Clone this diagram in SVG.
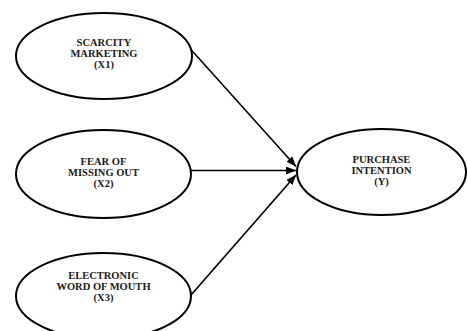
<svg xmlns="http://www.w3.org/2000/svg" width="467" height="331" viewBox="0 0 467 331">
  <style>
    .node ellipse { fill: #ffffff; stroke: #000000; stroke-width: 2; }
    .node text { font-family: "Liberation Serif", "Times New Roman", serif; font-weight: bold; font-size: 10.5px; fill: #1a1a1a; text-anchor: middle; }
    .edge { stroke: #000000; stroke-width: 1.6; fill: none; marker-end: url(#arrow); }
  </style>
  <defs>
    <marker id="arrow" markerUnits="userSpaceOnUse" markerWidth="10" markerHeight="8" refX="10" refY="4" orient="auto">
      <path d="M0,0 L10,4 L0,8 z" fill="#000000"/>
    </marker>
  </defs>
  <rect width="467" height="331" fill="#ffffff"/>

  <g id="connectors">
    <line class="edge" x1="186" y1="44" x2="296" y2="166.5"/>
    <line class="edge" x1="191" y1="170.5" x2="296" y2="170.5"/>
    <line class="edge" x1="191" y1="295" x2="296" y2="175"/>
  </g>

  <g id="scarcity-marketing" class="node">
    <ellipse cx="104" cy="56" rx="88" ry="43"/>
    <text x="104" y="46">SCARCITY</text>
    <text x="104" y="57">MARKETING</text>
    <text x="104" y="68">(X1)</text>
  </g>

  <g id="fear-of-missing-out" class="node">
    <ellipse cx="103.5" cy="174" rx="87.5" ry="44"/>
    <text x="103.5" y="165">FEAR OF</text>
    <text x="103.5" y="176">MISSING OUT</text>
    <text x="103.5" y="187">(X2)</text>
  </g>

  <g id="electronic-word-of-mouth" class="node">
    <ellipse cx="103.5" cy="296" rx="87.5" ry="43"/>
    <text x="103.5" y="279">ELECTRONIC</text>
    <text x="103.5" y="290">WORD OF MOUTH</text>
    <text x="103.5" y="301">(X3)</text>
  </g>

  <g id="purchase-intention" class="node">
    <ellipse cx="381.5" cy="172" rx="84.5" ry="43"/>
    <text x="381.5" y="163">PURCHASE</text>
    <text x="381.5" y="174">INTENTION</text>
    <text x="381.5" y="185">(Y)</text>
  </g>
</svg>
